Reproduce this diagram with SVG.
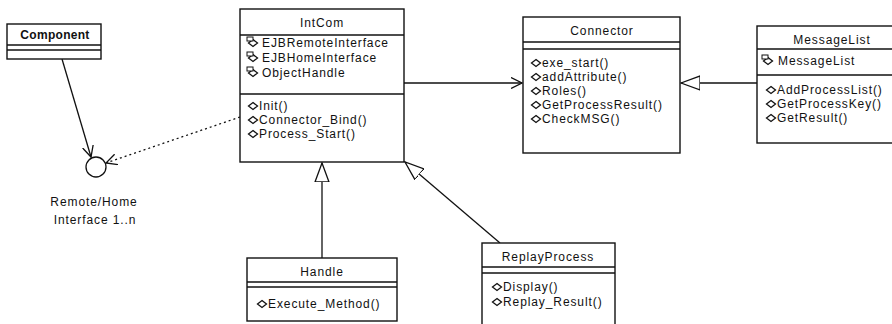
<svg xmlns="http://www.w3.org/2000/svg" width="892" height="324" viewBox="0 0 892 324">
<style>
.box{fill:#fff;stroke:#111;stroke-width:1.4}
.ln{stroke:#111;stroke-width:1.3;fill:none}
.t{font-family:"Liberation Sans",Arial,sans-serif;font-size:12px;letter-spacing:0.9px;fill:#111}
.tc{text-anchor:middle}
.b{font-weight:bold;letter-spacing:0.3px}
.dash{stroke-dasharray:2 3}
</style>
<defs>
<g id="op"><polygon points="0,-3.5 4.5,0 0,3.5 -4.5,0" fill="#fff" stroke="#111" stroke-width="1.3"/></g>
<g id="at"><polygon points="1,-3.5 5.5,0 1,3.5 -3.5,0" fill="#fff" stroke="#111" stroke-width="1.3"/><rect x="-5" y="-6" width="6" height="4" fill="#fff" stroke="#111" stroke-width="1"/></g>
<marker id="open" viewBox="0 0 12 12" refX="11" refY="6" markerWidth="12" markerHeight="12" markerUnits="userSpaceOnUse" orient="auto"><path d="M0,0.5 L11,6 L0,11.5" fill="none" stroke="#111" stroke-width="1.3"/></marker>
<marker id="tri" viewBox="0 0 20 16" refX="19" refY="8" markerWidth="20" markerHeight="16" markerUnits="userSpaceOnUse" orient="auto"><path d="M0,1 L19,8 L0,15 Z" fill="#fff" stroke="#111" stroke-width="1.3"/></marker>
</defs>
<g id="connectors">
<line class="ln" x1="62" y1="59" x2="91" y2="157" marker-end="url(#open)"/>
<line class="ln dash" x1="240" y1="117" x2="106" y2="163" marker-end="url(#open)"/>
<line class="ln" x1="404" y1="83" x2="522" y2="83" marker-end="url(#open)"/>
<line class="ln" x1="757" y1="83" x2="681" y2="83" marker-end="url(#tri)"/>
<line class="ln" x1="322" y1="258" x2="322" y2="163" marker-end="url(#tri)"/>
<line class="ln" x1="500" y1="243" x2="405" y2="162" marker-end="url(#tri)"/>
</g>
<g id="component">
<rect class="box" x="7" y="24" width="94" height="35"/>
<line class="ln" x1="7" y1="45" x2="101" y2="45"/>
<line class="ln" x1="7" y1="50" x2="101" y2="50"/>
<text class="t tc b" x="55" y="39">Component</text>
</g>
<g id="remote-home-interface">
<circle class="ln" cx="96" cy="167" r="10"/>
<text class="t tc" x="94" y="206">Remote/Home</text>
<text class="t tc" x="95" y="224">Interface 1..n</text>
</g>
<g id="intcom">
<rect class="box" x="240" y="9" width="164" height="153"/>
<line class="ln" x1="240" y1="35" x2="404" y2="35"/>
<line class="ln" x1="240" y1="94" x2="404" y2="94"/>
<text class="t tc" x="322" y="27">IntCom</text>
<use href="#at" x="252" y="43"/><text class="t" x="262" y="47">EJBRemoteInterface</text>
<use href="#at" x="252" y="58"/><text class="t" x="262" y="62">EJBHomeInterface</text>
<use href="#at" x="252" y="73"/><text class="t" x="262" y="77">ObjectHandle</text>
<use href="#op" x="253" y="106"/><text class="t" x="259" y="110">Init()</text>
<use href="#op" x="253" y="120"/><text class="t" x="259" y="124">Connector_Bind()</text>
<use href="#op" x="253" y="134"/><text class="t" x="259" y="138">Process_Start()</text>
</g>
<g id="connector">
<rect class="box" x="523" y="17" width="157" height="136"/>
<line class="ln" x1="523" y1="42" x2="680" y2="42"/>
<line class="ln" x1="523" y1="49" x2="680" y2="49"/>
<text class="t tc" x="602" y="35">Connector</text>
<use href="#op" x="536" y="63"/><text class="t" x="542" y="67">exe_start()</text>
<use href="#op" x="536" y="77"/><text class="t" x="542" y="81">addAttribute()</text>
<use href="#op" x="536" y="91"/><text class="t" x="542" y="95">Roles()</text>
<use href="#op" x="536" y="105"/><text class="t" x="542" y="109">GetProcessResult()</text>
<use href="#op" x="536" y="119"/><text class="t" x="542" y="123">CheckMSG()</text>
</g>
<g id="messagelist">
<rect class="box" x="757" y="26" width="152" height="117"/>
<line class="ln" x1="757" y1="49" x2="909" y2="49"/>
<line class="ln" x1="757" y1="75" x2="909" y2="75"/>
<text class="t tc" x="832" y="44">MessageList</text>
<use href="#at" x="767" y="61"/><text class="t" x="778" y="65">MessageList</text>
<use href="#op" x="771" y="90"/><text class="t" x="777" y="94">AddProcessList()</text>
<use href="#op" x="771" y="104"/><text class="t" x="777" y="108">GetProcessKey()</text>
<use href="#op" x="771" y="118"/><text class="t" x="777" y="122">GetResult()</text>
</g>
<g id="handle">
<rect class="box" x="247" y="258" width="150" height="63"/>
<line class="ln" x1="247" y1="282" x2="397" y2="282"/>
<line class="ln" x1="247" y1="287" x2="397" y2="287"/>
<text class="t tc" x="322" y="276">Handle</text>
<use href="#op" x="262" y="304"/><text class="t" x="268" y="308">Execute_Method()</text>
</g>
<g id="replayprocess">
<rect class="box" x="482" y="243" width="133" height="90"/>
<line class="ln" x1="482" y1="267" x2="615" y2="267"/>
<line class="ln" x1="482" y1="273" x2="615" y2="273"/>
<text class="t tc" x="548" y="261">ReplayProcess</text>
<use href="#op" x="497" y="287"/><text class="t" x="503" y="291">Display()</text>
<use href="#op" x="497" y="302"/><text class="t" x="503" y="306">Replay_Result()</text>
</g>
</svg>
